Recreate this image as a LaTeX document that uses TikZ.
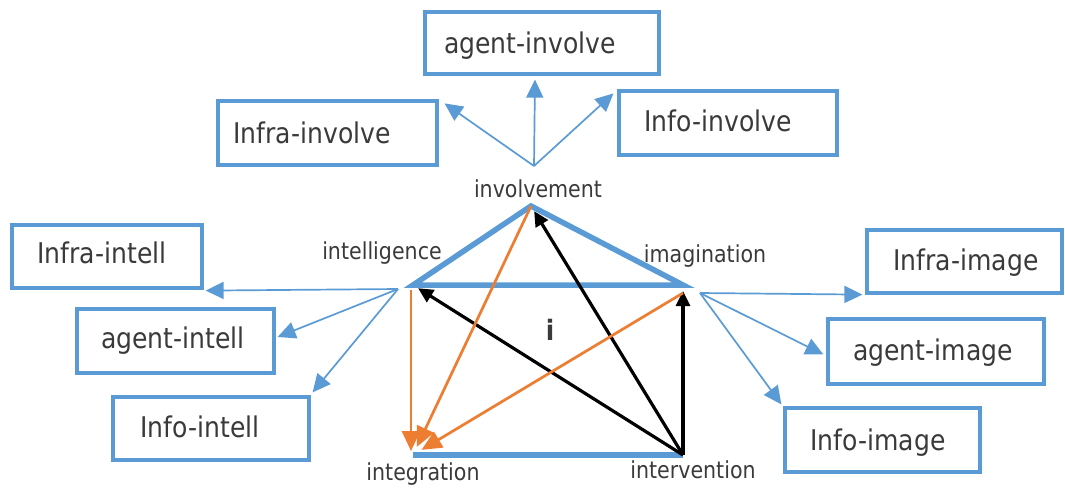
\documentclass[tikz,border=0pt]{standalone}
\usepackage{fontspec}
\setmainfont{DejaVu Sans}[FakeStretch=0.88]
\usetikzlibrary{arrows.meta,calc}
\definecolor{bl}{HTML}{5B9BD5}
\definecolor{org}{HTML}{ED7D31}
\definecolor{txt}{HTML}{3A3A3A}
\begin{document}
\begin{tikzpicture}[x=1pt,y=-1pt,
  box/.style={draw=bl, line width=3.2pt, inner sep=0pt},
  btxt/.style={text=txt, font=\fontsize{28.5}{30}\selectfont, inner sep=0pt, anchor=base},
  lbl/.style={text=txt, font=\fontsize{23.4}{25}\selectfont, inner sep=0pt, anchor=base},
  pedge/.style={draw=bl, line width=5.5pt, line join=miter},
  thinarr/.style={draw=bl, line width=1.7pt, -{Triangle[length=18pt,width=17pt]}},
  blkarr/.style={draw=black, line width=3.2pt, -{Triangle[length=15pt,width=14pt]}, shorten >=6pt},
  orgarr/.style={draw=org, line width=2.7pt, -{Triangle[length=20pt,width=18pt]}}
]
\useasboundingbox (0,0) rectangle (1065,488);

% boxes
\node[box, minimum width=234, minimum height=62] (agentinv) at (542,43) {};
\node[box, minimum width=219, minimum height=64] (infrainv) at (327.5,133) {};
\node[box, minimum width=218, minimum height=64] (infoinv) at (728,123) {};
\node[box, minimum width=190, minimum height=63] (infraint) at (107,256.5) {};
\node[box, minimum width=197, minimum height=64] (agentint) at (175.5,341) {};
\node[box, minimum width=196, minimum height=63] (infoint) at (211,428.5) {};
\node[box, minimum width=195, minimum height=63] (infraimg) at (964.5,261.5) {};
\node[box, minimum width=216, minimum height=65] (agentimg) at (936,351.5) {};
\node[box, minimum width=195, minimum height=64] (infoimg) at (882.5,440) {};

% box texts
\node[btxt] (tagentinv) at (530,53) {agent-involve};
\node[btxt] (tinfrainv) at (312,143) {Infra-involve};
\node[btxt] (tinfoinv) at (718,131) {Info-involve};
\node[btxt] (tinfraint) at (102,263) {Infra-intell};
\node[btxt] (tagentint) at (173,348) {agent-intell};
\node[btxt] (tinfoint) at (200,437) {Info-intell};
\node[btxt] (tinfraimg) at (966,270) {Infra-image};
\node[btxt] (tagentimg) at (933,360) {agent-image};
\node[btxt] (tinfoimg) at (878,450) {Info-image};

% pentagon vertices
\coordinate (vinv) at (531,206);
\coordinate (vint) at (413,285);
\coordinate (vimg) at (683,285);
\coordinate (vintg) at (413,455);
\coordinate (vintv) at (683,455);

% labels
\node[lbl] (linv) at (538,197) {involvement};
\node[lbl] (lint) at (382,259) {intelligence};
\node[lbl] (limg) at (705,262) {imagination};
\node[lbl] (lintg) at (423,480) {integration};
\node[lbl] (lintv) at (693,478) {intervention};
\node[text=txt, font=\fontsize{28}{30}\selectfont\bfseries, inner sep=0pt, anchor=base] (ii) at (550,340) {i};

% blue pentagon edges
\draw[pedge] (vint) -- (vinv) -- (vimg) -- cycle;
\draw[pedge] (vintg) -- (vintv);

% black arrows
\draw[blkarr] (vintv) -- (vint);
\draw[blkarr] (vintv) -- (vinv);
\draw[blkarr] (vintv) -- (vimg);

% orange arrows
\draw[orgarr] ($(vint)+(-2,5)$) -- ($(vintg)+(-2,-4)$);
\draw[orgarr, shorten >=9pt] (vinv) -- (vintg);
\draw[orgarr, shorten >=10pt] ($(vimg)+(0,8)$) -- (vintg);

% thin blue arrows
\coordinate (s1) at (534,166);
\coordinate (s2) at (398,289);
\coordinate (s3) at (700,293);
\draw[thinarr] (s1) -- ($(infrainv.north east)+(6,4)$);
\draw[thinarr] (s1) -- ($(agentinv.south)+(-7,4)$);
\draw[thinarr] (s1) -- ($(infoinv.north west)+(-4,4)$);
\draw[thinarr] (s2) -- ($(infraint.south east)+(2,1)$);
\draw[thinarr] (s2) -- ($(agentint.east)+(2,-4)$);
\draw[thinarr] (s2) -- ($(infoint.north east)+(2,-3)$);
\draw[thinarr] (s3) -- ($(infraimg.south west)+(-3,0)$);
\draw[thinarr] (s3) -- ($(agentimg.west)+(-3,3)$);
\draw[thinarr] (s3) -- ($(infoimg.north west)+(-2,-2)$);
\end{tikzpicture}
\end{document}
